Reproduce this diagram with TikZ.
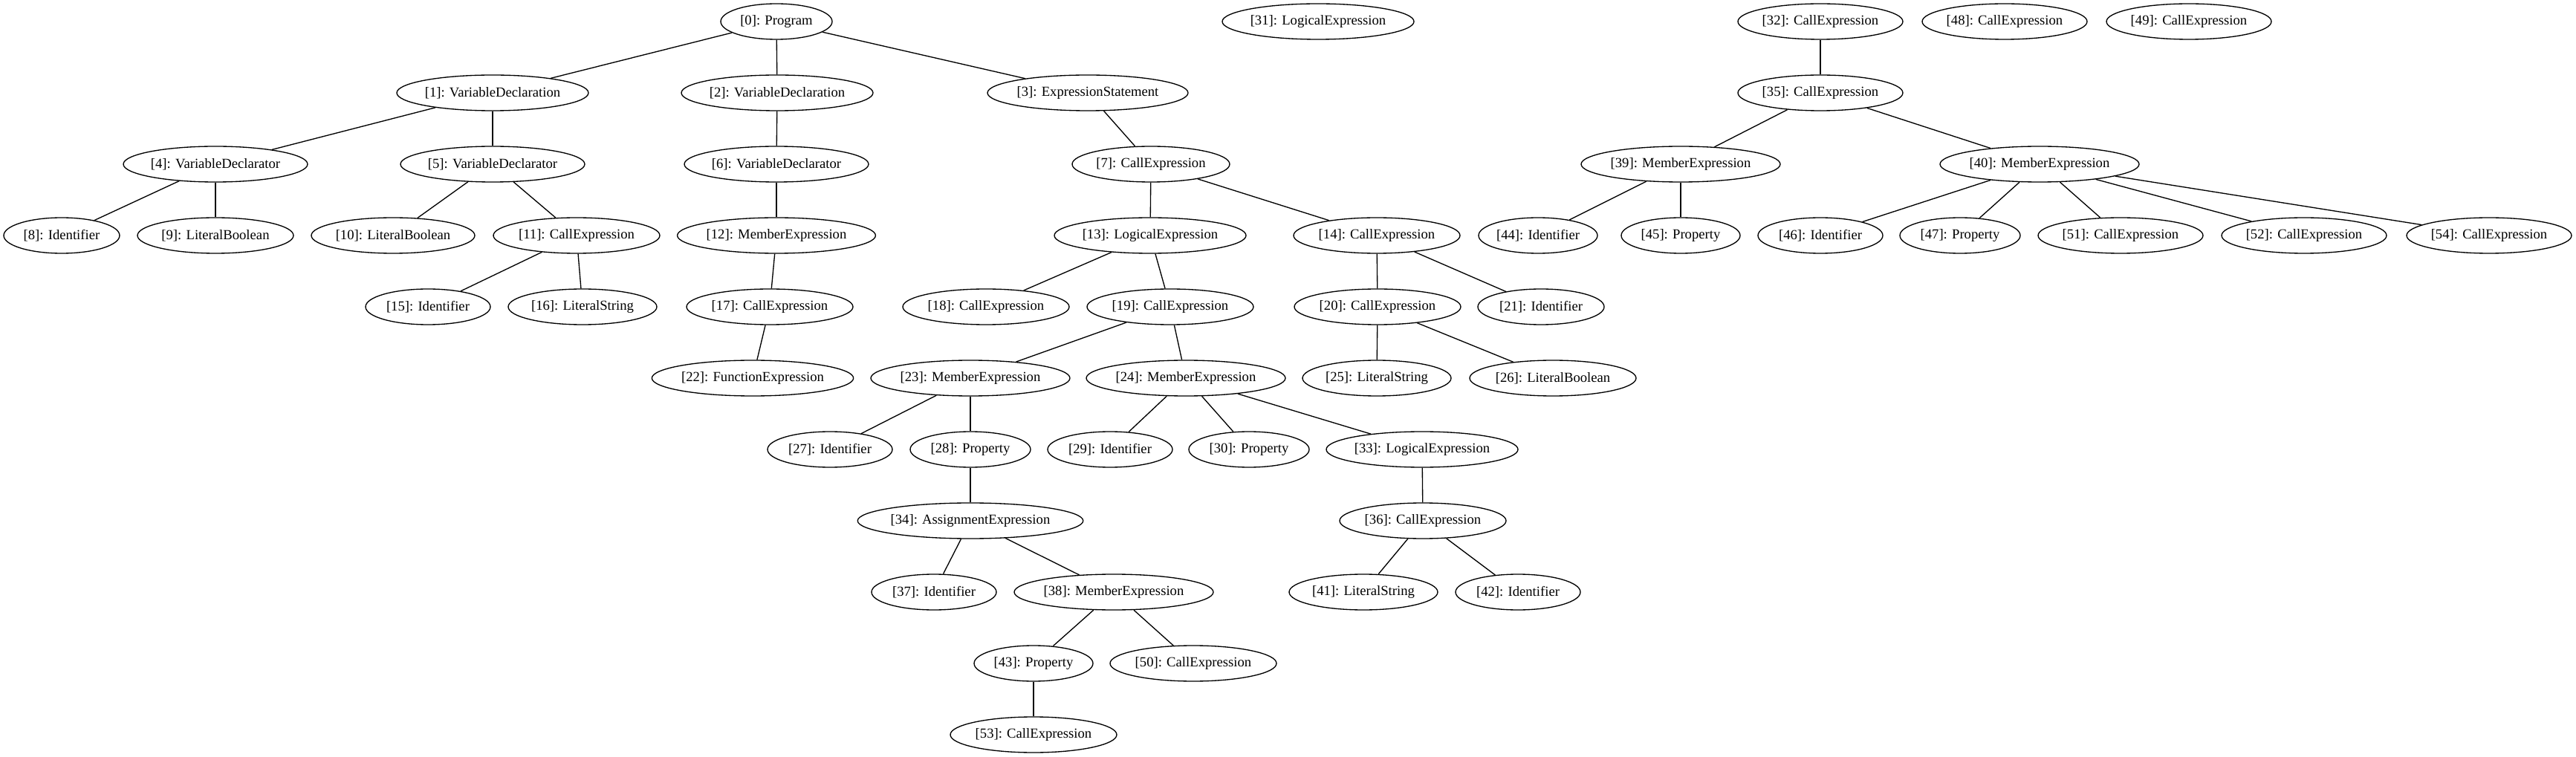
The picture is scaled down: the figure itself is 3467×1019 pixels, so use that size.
\documentclass[tikz,border=0pt]{standalone}
\usepackage{fontspec}
\setmainfont{Liberation Serif}
\usetikzlibrary{shapes.geometric}
\tikzset{
  nd/.style={ellipse, draw=black, line width=1pt, minimum height=36pt, inner sep=0pt,
    font=\fontsize{14}{16}\selectfont},
  ed/.style={draw=black, line width=1pt}
}
\begin{document}
\begin{tikzpicture}[x=0.75pt,y=-0.75pt]
\useasboundingbox[fill=white] (0,0) rectangle (3467,1019);
% row 0
\node[nd, minimum width=112.5pt] (n0) at (1045,29) {[0]: Program};
\node[nd, minimum width=193.5pt] (n31) at (1774,29) {[31]: LogicalExpression};
\node[nd, minimum width=166.5pt] (n32) at (2450,29) {[32]: CallExpression};
\node[nd, minimum width=166.5pt] (n48) at (2698,29) {[48]: CallExpression};
\node[nd, minimum width=166.5pt] (n49) at (2946,29) {[49]: CallExpression};
% row 1
\node[nd, minimum width=193.5pt] (n1) at (663,125) {[1]: VariableDeclaration};
\node[nd, minimum width=193.5pt] (n2) at (1046,125) {[2]: VariableDeclaration};
\node[nd, minimum width=202.5pt] (n3) at (1464,125) {[3]: ExpressionStatement};
\node[nd, minimum width=166.5pt] (n35) at (2450,125) {[35]: CallExpression};
% row 2
\node[nd, minimum width=186pt] (n4) at (290,221) {[4]: VariableDeclarator};
\node[nd, minimum width=186pt] (n5) at (663,221) {[5]: VariableDeclarator};
\node[nd, minimum width=186pt] (n6) at (1045,221) {[6]: VariableDeclarator};
\node[nd, minimum width=159pt] (n7) at (1549,221) {[7]: CallExpression};
\node[nd, minimum width=201pt] (n39) at (2262,221) {[39]: MemberExpression};
\node[nd, minimum width=201pt] (n40) at (2745,221) {[40]: MemberExpression};
% row 3
\node[nd, minimum width=117pt] (n8) at (83,317) {[8]: Identifier};
\node[nd, minimum width=157.5pt] (n9) at (290,317) {[9]: LiteralBoolean};
\node[nd, minimum width=165pt] (n10) at (529,317) {[10]: LiteralBoolean};
\node[nd, minimum width=168pt] (n11) at (776,317) {[11]: CallExpression};
\node[nd, minimum width=199.5pt] (n12) at (1045,317) {[12]: MemberExpression};
\node[nd, minimum width=193.5pt] (n13) at (1548,317) {[13]: LogicalExpression};
\node[nd, minimum width=168pt] (n14) at (1853,317) {[14]: CallExpression};
\node[nd, minimum width=120pt] (n44) at (2070,317) {[44]: Identifier};
\node[nd, minimum width=120pt] (n45) at (2262,317) {[45]: Property};
\node[nd, minimum width=126pt] (n46) at (2450,317) {[46]: Identifier};
\node[nd, minimum width=121.5pt] (n47) at (2638,317) {[47]: Property};
\node[nd, minimum width=166.5pt] (n51) at (2854,317) {[51]: CallExpression};
\node[nd, minimum width=166.5pt] (n52) at (3101,317) {[52]: CallExpression};
\node[nd, minimum width=166.5pt] (n54) at (3350,317) {[54]: CallExpression};
% row 4
\node[nd, minimum width=126pt] (n15) at (576,413) {[15]: Identifier};
\node[nd, minimum width=150pt] (n16) at (784,413) {[16]: LiteralString};
\node[nd, minimum width=168pt] (n17) at (1036,413) {[17]: CallExpression};
\node[nd, minimum width=168pt] (n18) at (1327,413) {[18]: CallExpression};
\node[nd, minimum width=168pt] (n19) at (1575,413) {[19]: CallExpression};
\node[nd, minimum width=168pt] (n20) at (1854,413) {[20]: CallExpression};
\node[nd, minimum width=127.5pt] (n21) at (2074,413) {[21]: Identifier};
% row 5
\node[nd, minimum width=202.5pt] (n22) at (1013,509) {[22]: FunctionExpression};
\node[nd, minimum width=201pt] (n23) at (1306,509) {[23]: MemberExpression};
\node[nd, minimum width=201pt] (n24) at (1596,509) {[24]: MemberExpression};
\node[nd, minimum width=150pt] (n25) at (1853,509) {[25]: LiteralString};
\node[nd, minimum width=168pt] (n26) at (2090,509) {[26]: LiteralBoolean};
% row 6
\node[nd, minimum width=126pt] (n27) at (1117,605) {[27]: Identifier};
\node[nd, minimum width=121.5pt] (n28) at (1306,605) {[28]: Property};
\node[nd, minimum width=126pt] (n29) at (1494,605) {[29]: Identifier};
\node[nd, minimum width=121.5pt] (n30) at (1681,605) {[30]: Property};
\node[nd, minimum width=192pt] (n33) at (1914,605) {[33]: LogicalExpression};
% row 7
\node[nd, minimum width=223.5pt] (n34) at (1306,701) {[34]: AssignmentExpression};
\node[nd, minimum width=168pt] (n36) at (1915,701) {[36]: CallExpression};
% row 8
\node[nd, minimum width=126pt] (n37) at (1257,797) {[37]: Identifier};
\node[nd, minimum width=201pt] (n38) at (1499,797) {[38]: MemberExpression};
\node[nd, minimum width=150pt] (n41) at (1835,797) {[41]: LiteralString};
\node[nd, minimum width=126pt] (n42) at (2043,797) {[42]: Identifier};
% row 9
\node[nd, minimum width=120pt] (n43) at (1391,893) {[43]: Property};
\node[nd, minimum width=168pt] (n50) at (1606,893) {[50]: CallExpression};
% row 10
\node[nd, minimum width=168pt] (n53) at (1391,989) {[53]: CallExpression};
% edges
\foreach \a/\b in {n0/n1,n0/n2,n0/n3,n1/n4,n1/n5,n2/n6,n3/n7,n4/n8,n4/n9,n5/n10,n5/n11,
  n6/n12,n7/n13,n7/n14,n11/n15,n11/n16,n12/n17,n13/n18,n13/n19,n14/n20,n14/n21,n17/n22,
  n19/n23,n19/n24,n20/n25,n20/n26,n23/n27,n23/n28,n24/n29,n24/n30,n24/n33,n28/n34,n33/n36,
  n34/n37,n34/n38,n36/n41,n36/n42,n38/n43,n38/n50,n43/n53,n32/n35,n35/n39,n35/n40,
  n39/n44,n39/n45,n40/n46,n40/n47,n40/n51,n40/n52,n40/n54}
  \draw[ed] (\a) -- (\b);
\end{tikzpicture}
\end{document}
